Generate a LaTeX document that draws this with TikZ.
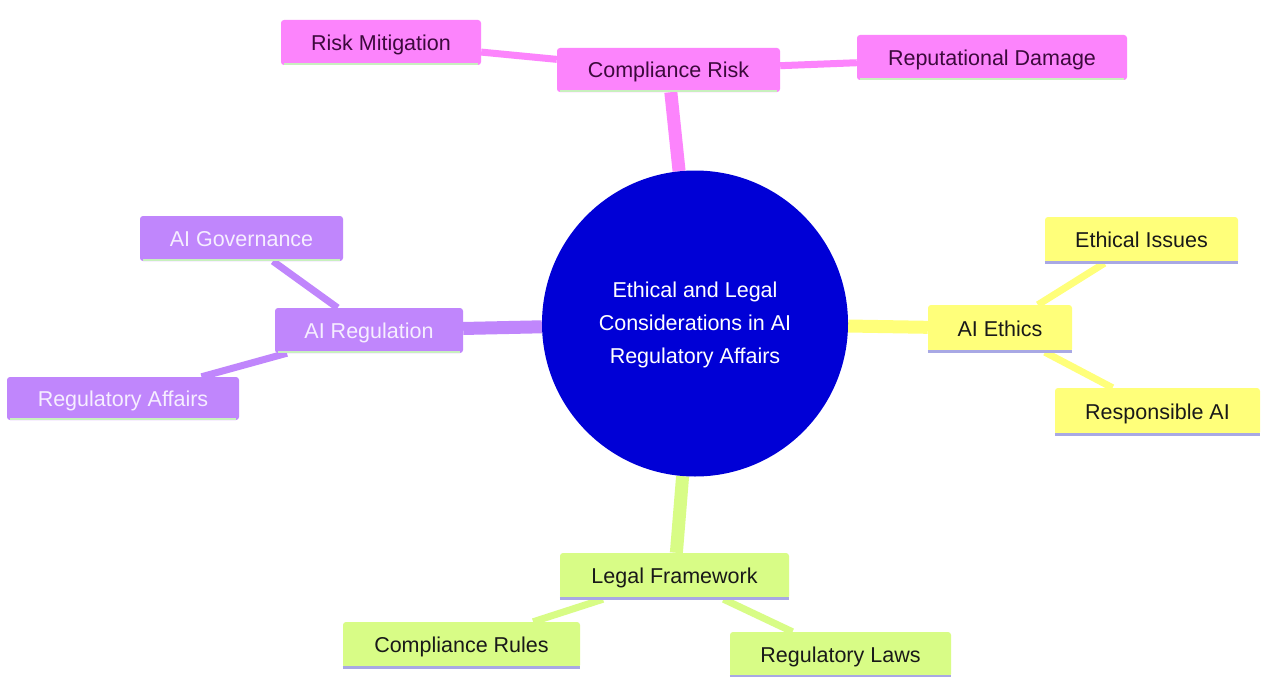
\documentclass[tikz,border=0pt]{standalone}
\usepackage{fontspec}
\setmainfont{Liberation Sans}
\usetikzlibrary{backgrounds}
\definecolor{cblue}{RGB}{0,0,214}
\definecolor{cpink}{RGB}{252,132,252}
\definecolor{cpurple}{RGB}{192,134,252}
\definecolor{cyellow}{RGB}{255,255,122}
\definecolor{clime}{RGB}{216,252,134}
\definecolor{tpink}{RGB}{60,10,60}
\definecolor{tpurple}{RGB}{246,238,255}
\definecolor{tdark}{RGB}{25,25,25}
\definecolor{ugreen}{RGB}{200,240,190}
\definecolor{ulav}{RGB}{168,168,228}
\tikzset{
  box/.style={rectangle, rounded corners=3pt, inner sep=0pt, minimum height=45pt,
    text height=20pt, text depth=4.8pt,
    font=\fontsize{21.5}{25}\selectfont},
  pinkbox/.style={box, fill=cpink, text=tpink},
  purplebox/.style={box, fill=cpurple, text=tpurple},
  yellowbox/.style={box, fill=cyellow, text=tdark},
  limebox/.style={box, fill=clime, text=tdark},
  mainlink/.style={line width=13pt},
  sublink/.style={line width=7pt},
}
\begin{document}
\begin{tikzpicture}[x=1pt,y=-1pt]
\useasboundingbox (0,0) rectangle (1261,677);
% centre
\node[circle, fill=cblue, minimum size=306pt, inner sep=0pt] (c) at (695,323.5) {};
\node[text=white, align=center, inner sep=0pt,
  font=\fontsize{21.5}{33}\selectfont] (ct) at (695,325)
  {Ethical and Legal\\Considerations in AI\\Regulatory Affairs};
% pink
\node[pinkbox, minimum width=200pt] (rm) at (381,42.5) {Risk Mitigation};
\node[pinkbox, minimum width=223pt, minimum height=44pt] (cr) at (668.5,70) {Compliance Risk};
\node[pinkbox, minimum width=270pt] (rd) at (992,57.5) {Reputational Damage};
% purple
\node[purplebox, minimum width=203pt] (ag) at (241.5,238.5) {AI Governance};
\node[purplebox, minimum width=188pt] (ar) at (369,330.5) {AI Regulation};
\node[purplebox, minimum width=232pt, minimum height=43pt] (ra) at (123,398.5) {Regulatory Affairs};
% yellow
\node[yellowbox, minimum width=193pt, minimum height=46pt] (ei) at (1141.5,240) {Ethical Issues};
\node[yellowbox, minimum width=144pt, minimum height=47pt] (ae) at (1000,328.5) {AI Ethics};
\node[yellowbox, minimum width=205pt, minimum height=47pt] (rai) at (1157.5,411.5) {Responsible AI};
% lime
\node[limebox, minimum width=229pt, minimum height=46pt] (lf) at (674.5,576) {Legal Framework};
\node[limebox, minimum width=237pt, minimum height=46pt] (crl) at (461.5,645) {Compliance Rules};
\node[limebox, minimum width=221pt] (rl) at (840.5,654.5) {Regulatory Laws};
% underlines
\foreach \n in {rm,cr,rd,ag,ar,ra}
  \draw[ugreen, line width=2.5pt] ([xshift=3pt,yshift=1pt]\n.south west) -- ([xshift=-3pt,yshift=1pt]\n.south east);
\foreach \n in {ei,ae,rai,lf,crl,rl}
  \draw[ulav, line width=3pt] ([yshift=1pt]\n.south west) -- ([yshift=1pt]\n.south east);
% connectors
\begin{scope}[on background layer]
\fill[white] (0,0) rectangle (1261,677);
\draw[cpink, mainlink] (cr) -- (c);
\draw[cpink, sublink] (rm) -- (cr);
\draw[cpink, sublink] (rd) -- (cr);
\draw[cpurple, mainlink] (ar) -- (c);
\draw[cpurple, sublink] (ag) -- (ar);
\draw[cpurple, sublink] (ra) -- (ar);
\draw[cyellow, mainlink] (ae) -- (c);
\draw[cyellow, sublink] (ei) -- (ae);
\draw[cyellow, sublink] (rai) -- (ae);
\draw[clime, mainlink] (lf) -- (c);
\draw[clime, sublink] (crl) -- (lf);
\draw[clime, sublink] (rl) -- (lf);
\end{scope}
\end{tikzpicture}
\end{document}
